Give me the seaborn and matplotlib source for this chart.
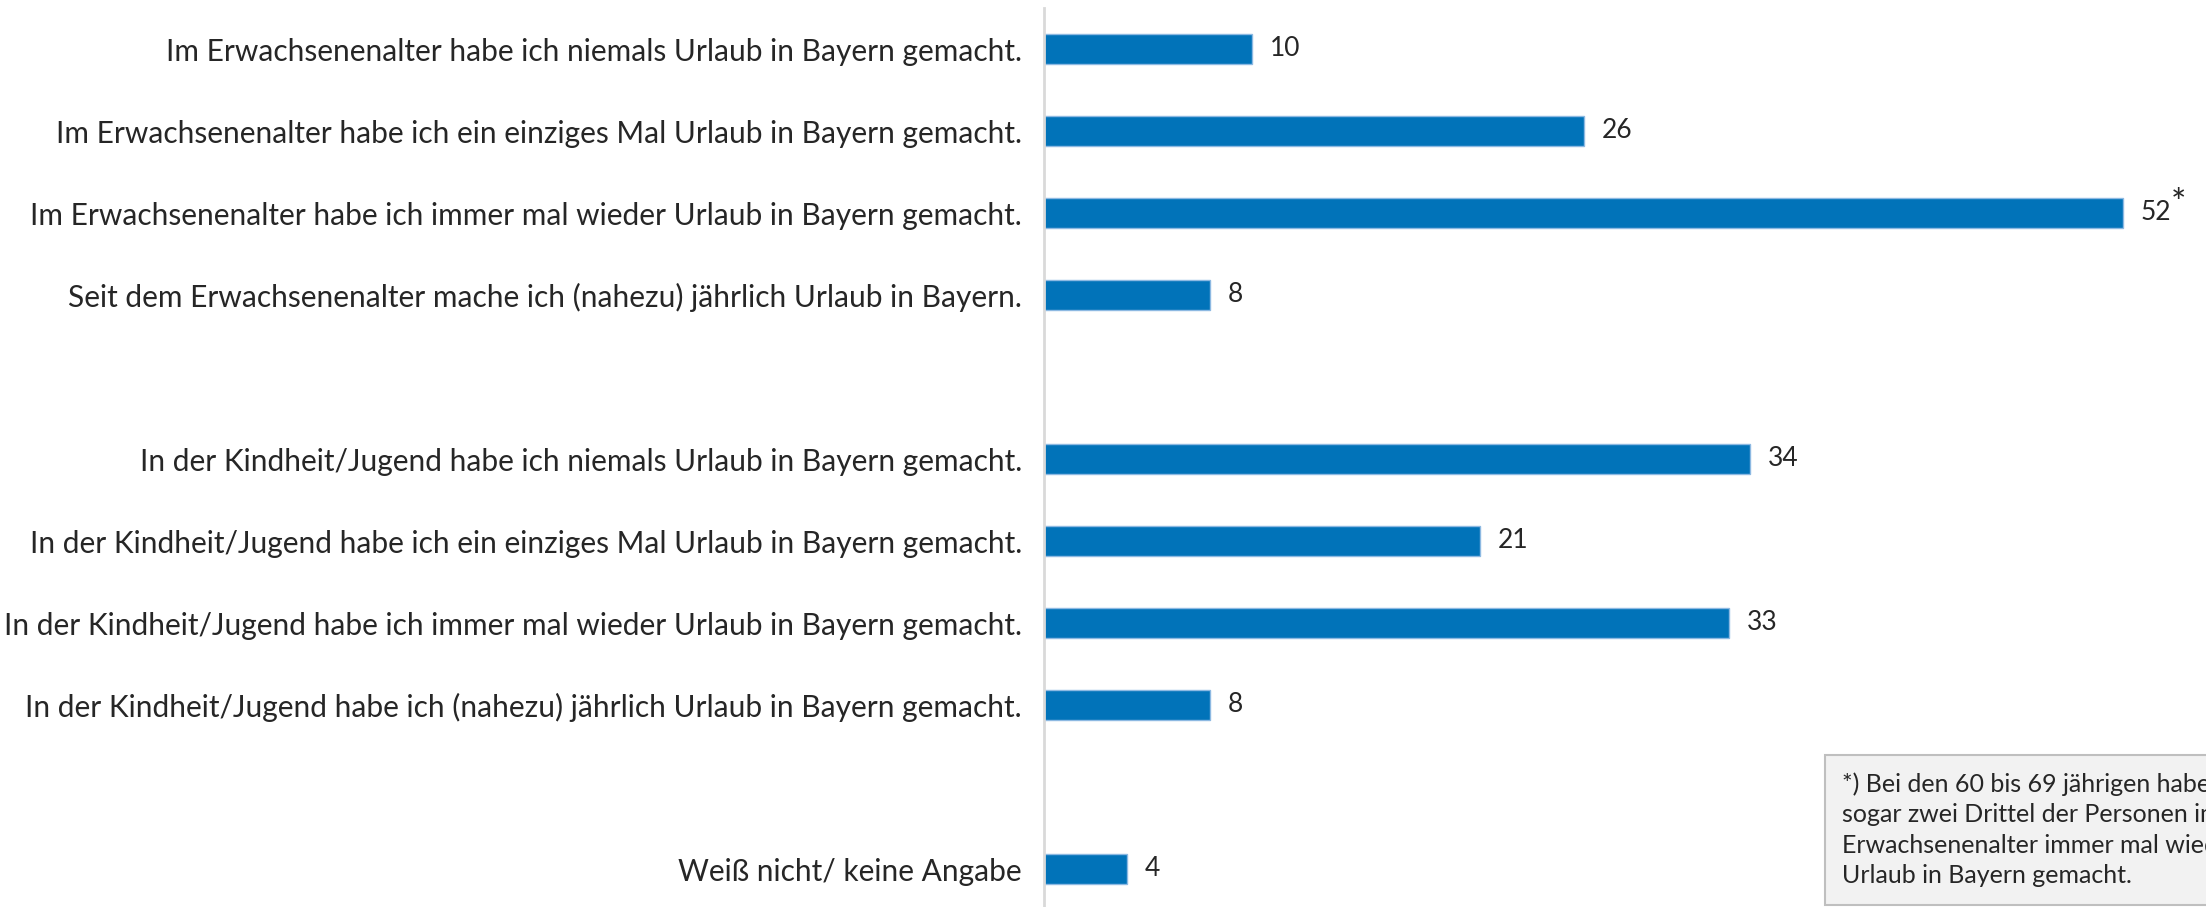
import matplotlib
matplotlib.use("Agg")
import matplotlib.pyplot as plt
import seaborn as sns
import pandas as pd
import numpy as np

# slot order top -> bottom, blanks are empty spacer rows
slots = [
    "Im Erwachsenenalter habe ich niemals Urlaub in Bayern gemacht.",
    "Im Erwachsenenalter habe ich ein einziges Mal Urlaub in Bayern gemacht.",
    "Im Erwachsenenalter habe ich immer mal wieder Urlaub in Bayern gemacht.",
    "Seit dem Erwachsenenalter mache ich (nahezu) jährlich Urlaub in Bayern.",
    " ",
    "In der Kindheit/Jugend habe ich niemals Urlaub in Bayern gemacht.",
    "In der Kindheit/Jugend habe ich ein einziges Mal Urlaub in Bayern gemacht.",
    "In der Kindheit/Jugend habe ich immer mal wieder Urlaub in Bayern gemacht.",
    "In der Kindheit/Jugend habe ich (nahezu) jährlich Urlaub in Bayern gemacht.",
    "  ",
    "Weiß nicht/ keine Angabe",
]
categories = [s for s in slots if s.strip()]
values = [10, 26, 52, 8, 34, 21, 33, 8, 4]
value_labels = ["10", "26", "52", "8", "34", "21", "33", "8", "4"]
starred = ["Im Erwachsenenalter habe ich immer mal wieder Urlaub in Bayern gemacht."]
note = ("*) Bei den 60 bis 69 jährigen haben\n"
        "sogar zwei Drittel der Personen im\n"
        "Erwachsenenalter immer mal wieder\n"
        "Urlaub in Bayern gemacht.")

df = pd.DataFrame({"kategorie": categories, "anteil": values})

sns.set_style("white")
plt.rcParams["font.family"] = ["Lato", "DejaVu Sans"]

fig = plt.figure(figsize=(22.06, 9.07), dpi=100)
ax = fig.add_axes([1044 / 2206, -3 / 907, 1 - 1044 / 2206, 902 / 907])

sns.barplot(data=df, y="kategorie", x="anteil", order=slots, orient="h",
            color="#0173B9", edgecolor="#8DB9E2", linewidth=1, width=0.37,
            saturation=1, ax=ax)

ax.set_xlim(0, 56)
ax.set_ylim(len(slots) - 0.5, -0.5)
ax.set_xlabel("")
ax.set_ylabel("")
ax.set_xticks([])

for sp in ["top", "right", "bottom"]:
    ax.spines[sp].set_visible(False)
ax.spines["left"].set_color("#D9D9D9")
ax.spines["left"].set_linewidth(2)

ax.set_yticks(range(len(slots)))
ax.set_yticklabels(slots, fontsize=21.5)
ax.tick_params(axis="y", which="major", length=0, pad=16)
ax.set_yticks(np.arange(-0.5, len(slots), 1), minor=True)
ax.tick_params(axis="y", which="minor", length=7.5, width=2, color="#D9D9D9",
               direction="out")

for cat, val, lab in zip(categories, values, value_labels):
    y = slots.index(cat)
    ax.annotate(lab, (val, y), xytext=(13, 0), textcoords="offset points",
                va="center", ha="left", fontsize=19)
    if cat in starred:
        ax.annotate("*", (val, y), xytext=(13 + 10.8 * len(lab), 6),
                    textcoords="offset points", va="center", ha="left",
                    fontsize=26)

fig.text(1842 / 2206, 1 - 772 / 907, note, fontsize=18, va="top", ha="left",
         linespacing=1.4,
         bbox=dict(boxstyle="square,pad=0.7", facecolor="#F2F2F2",
                   edgecolor="#BFBFBF", linewidth=1.5))

fig.savefig("out.png", dpi=100)
